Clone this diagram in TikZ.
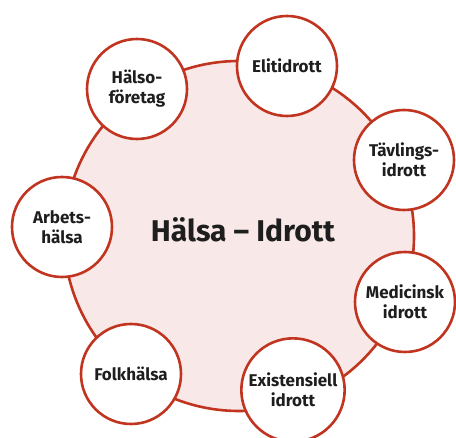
\documentclass[tikz,border=0pt]{standalone}
\usepackage{fontspec}
\setmainfont{Fira Sans}
\usepackage{tikz}
\definecolor{ringred}{RGB}{192,52,32}
\definecolor{hubpink}{RGB}{248,232,232}
\definecolor{inktext}{RGB}{30,30,30}

\begin{document}
\begin{tikzpicture}[x=1pt,y=-1pt,
  hub/.style={circle,draw=ringred,line width=2.6pt,fill=hubpink,minimum size=350pt},
  area/.style={circle,draw=ringred,line width=2.6pt,fill=white,minimum size=100pt,
    align=center,font=\fontsize{17}{20}\selectfont\bfseries,text=inktext}]
\useasboundingbox (0,0) rectangle (456,438);
\node [hub] (hub) at (239,236) {};
\node [font=\fontsize{30}{34}\selectfont\bfseries,text=inktext] (title) at (243,230) {Hälsa -- Idrott};
\node [area] (foretag) at (137,89) {Hälso-\\företag};
\node [area] (elit) at (287,66) {Elitidrott};
\node [area] (tavling) at (404,160) {Tävlings-\\idrott};
\node [area] (medicin) at (405,302) {Medicinsk\\idrott};
\node [area] (exist) at (293,390) {Existensiell\\idrott};
\node [area] (folk) at (131,374) {Folkhälsa};
\node [area] (arbete) at (62,227) {Arbets-\\hälsa};
\end{tikzpicture}
\end{document}
